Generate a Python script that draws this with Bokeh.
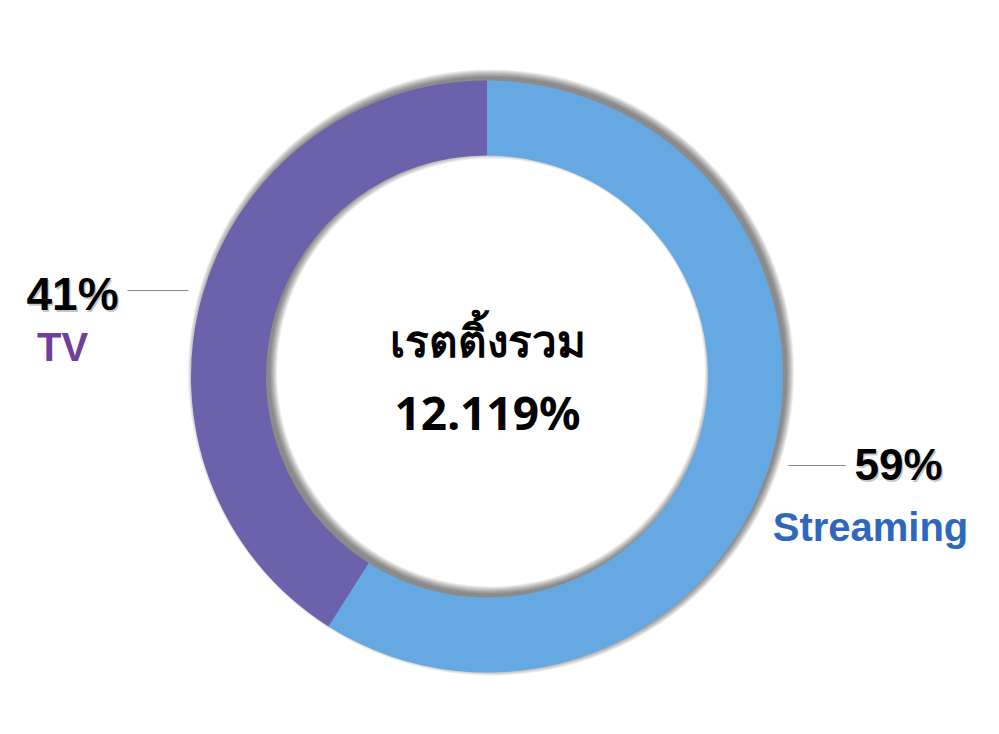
import math
from bokeh.plotting import figure
from bokeh.models import Range1d, ColumnDataSource
from bokeh.core.properties import value
from bokeh.embed import file_html
from bokeh.resources import INLINE

# ---- data ----
categories = ["Streaming", "TV"]
shares = [59, 41]
colors = ["#65a8e2", "#6c62ab"]
label_colors = ["#2f67bd", "#6e3f9b"]
center_title = "เรตติ้งรวม"
center_value = "12.119%"

W, H = 983, 718
p = figure(width=W, height=H, output_backend="svg", toolbar_location=None,
           x_range=Range1d(0, 983), y_range=Range1d(16, 734), min_border=0)
p.axis.visible = False
p.grid.visible = False
p.outline_line_color = None
p.background_fill_color = "white"
p.border_fill_color = "white"

TY = 16  # text baseline correction

def Y(sy):
    return 734 - sy

cx, cy = 486.5, Y(376)
R, r = 296, 221

# drop shadow (blurred, offset up/right)
for k in range(8):
    p.annulus(x=cx + 4, y=cy + 4, inner_radius=r - k, outer_radius=R + k,
              fill_color="black", fill_alpha=0.07, line_color=None)

# donut slices from the data: clockwise from top
total = sum(shares)
starts, ends = [], []
a = math.pi / 2
for s in shares:
    sweep = 2 * math.pi * s / total
    starts.append(a - sweep)
    ends.append(a)
    a -= sweep
src = ColumnDataSource(dict(cat=categories, start=starts, end=ends, color=colors))
p.annular_wedge(x=cx, y=cy, inner_radius=r, outer_radius=R, start_angle="start",
                end_angle="end", direction="anticlock", fill_color="color",
                line_color=None, source=src)

# leader lines
p.segment(x0=[127, 788], y0=[Y(290), Y(465)], x1=[188, 845], y1=[Y(290), Y(465)],
          line_color="#888888", line_width=1)

lat = value("Liberation Sans")
thai = value("Noto Sans")
pct = [f"{s}%" for s in shares]
pos = {"Streaming": ((898, 480, "44px"), (870, 542)), "TV": ((72, 309, "46px"), (62, 362))}
for i, c in enumerate(categories):
    (px, py, fs), (lx, ly) = pos[c]
    p.text(x=[px + 1.5], y=[Y(py - TY) - 2], text=[pct[i]], text_font=lat, text_font_size=fs,
           text_font_style="bold", text_color="black", text_alpha=0.22,
           text_align="center", text_baseline="alphabetic")
    p.text(x=[px], y=[Y(py - TY)], text=[pct[i]], text_font=lat, text_font_size=fs,
           text_font_style="bold", text_color="black", text_align="center",
           text_baseline="alphabetic")
    p.text(x=[lx], y=[Y(ly - TY)], text=[c], text_font=lat, text_font_size="40px",
           text_font_style="bold", text_color=label_colors[i], text_align="center",
           text_baseline="alphabetic")

p.text(x=[487], y=[Y(355 - TY)], text=[center_title], text_font=thai, text_font_size="44px",
       text_font_style="bold", text_color="black", text_align="center", text_baseline="alphabetic")
p.text(x=[487], y=[Y(427 - TY)], text=[center_value], text_font=thai, text_font_size="46px",
       text_font_style="bold", text_color="black", text_align="center", text_baseline="alphabetic")

open("out.html", "w").write(file_html(p, INLINE))
